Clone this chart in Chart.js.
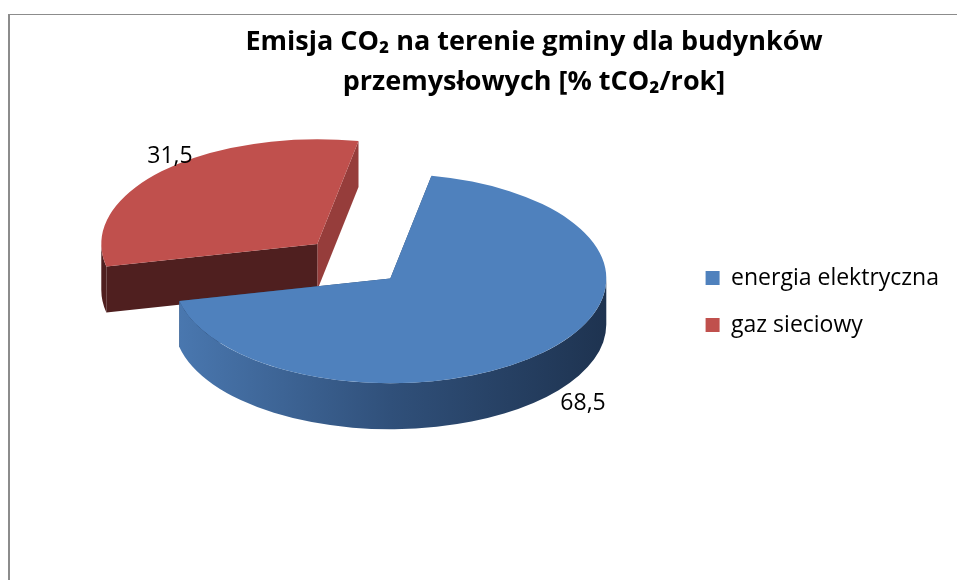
<!DOCTYPE html>
<html>
<head>
<meta charset="utf-8">
<script src="https://cdn.jsdelivr.net/npm/chart.js@4.4.1/dist/chart.umd.min.js"></script>
<style>
html, body { margin: 0; padding: 0; background: #fff; overflow: hidden; }
#ramka { position: absolute; left: 8px; top: 14px; width: 1200px; height: 800px;
         border-left: 2px solid #8c8c8c; border-top: 1px solid #8c8c8c; }
#wykres { position: absolute; left: 0; top: 0; }
</style>
</head>
<body>
<div id="ramka"></div>
<canvas id="wykres" width="957" height="580"></canvas>
<script>
const kategorie = ['energia elektryczna', 'gaz sieciowy'];
const udzialy = [68.5, 31.5];
const kolory = ['#4f81bd', '#c0504d'];
const tytul = ['Emisja CO₂ na terenie gminy dla budynków', 'przemysłowych [% tCO₂/rok]'];

// rysuje tort 3D z kątów policzonych przez Chart.js
const tort3d = {
    id: 'tort3d',
    beforeDatasetsDraw(chart, args, opts) {
        const ctx = chart.ctx;
        const arcs = chart.getDatasetMeta(0).data;
        const dane = chart.data.datasets[0].data;
        const d = opts.depth;

        const geom = arcs.map(function(arc, i) {
            const s = arc.startAngle, e = arc.endAngle, m = (s + e) / 2;
            const off = arc.options.offset || 0;
            const rx = arc.outerRadius, ry = rx * opts.tilt;
            return {
                i: i, s: s, e: e, m: m, rx: rx, ry: ry,
                cx: arc.x + opts.shiftX + Math.cos(m) * off,
                cy: arc.y - d / 2 + Math.sin(m) * off * opts.tilt,
                color: arc.options.backgroundColor
            };
        });

        // najpierw kawałki z tyłu
        const kolejnosc = geom.slice().sort((a, b) => Math.sin(a.m) - Math.sin(b.m));

        kolejnosc.forEach(function(g) {
            const pt = (a) => [g.cx + Math.cos(a) * g.rx, g.cy + Math.sin(a) * g.ry];

            // ścianki boczne (promieniowe)
            const sciany = [[g.s, opts.faceColors[g.i][0]], [g.e, opts.faceColors[g.i][1]]]
                .sort((a, b) => Math.sin(a[0]) - Math.sin(b[0]));
            sciany.forEach(function(f) {
                const p = pt(f[0]);
                ctx.beginPath();
                ctx.moveTo(g.cx, g.cy);
                ctx.lineTo(p[0], p[1]);
                ctx.lineTo(p[0], p[1] + d);
                ctx.lineTo(g.cx, g.cy + d);
                ctx.closePath();
                ctx.fillStyle = f[1];
                ctx.fill();
            });

            // zewnętrzna ścianka - widoczna tylko z przodu
            const stops = opts.sideColors[g.i];
            const grad = ctx.createLinearGradient(g.cx - g.rx, 0, g.cx + g.rx, 0);
            stops.forEach((c, k) => grad.addColorStop(stops.length > 1 ? k / (stops.length - 1) : 0, c));
            for (let k = -1; k <= 2; k++) {
                const lo = Math.max(g.s, 2 * Math.PI * k);
                const hi = Math.min(g.e, 2 * Math.PI * k + Math.PI);
                if (hi <= lo) continue;
                ctx.beginPath();
                ctx.ellipse(g.cx, g.cy, g.rx, g.ry, 0, lo, hi);
                ctx.ellipse(g.cx, g.cy + d, g.rx, g.ry, 0, hi, lo, true);
                ctx.closePath();
                ctx.fillStyle = grad;
                ctx.fill();
            }

            // wierzch
            ctx.beginPath();
            ctx.moveTo(g.cx, g.cy);
            ctx.ellipse(g.cx, g.cy, g.rx, g.ry, 0, g.s, g.e);
            ctx.closePath();
            ctx.fillStyle = g.color;
            ctx.fill();
        });

        // etykiety z wartościami
        ctx.save();
        ctx.font = opts.labelFont;
        ctx.fillStyle = '#000';
        ctx.textAlign = 'left';
        ctx.textBaseline = 'middle';
        geom.forEach(function(g) {
            const c = Math.cos(g.m), sn = Math.sin(g.m);
            const lx = g.cx + c * g.rx * 1.1;
            const ly = g.cy + sn * g.ry * 1.2 + (sn > 0 ? d * 0.8 : 0);
            ctx.fillText(String(dane[g.i]).replace('.', ','), lx, ly);
        });
        ctx.restore();
        return false;
    }
};

new Chart(document.getElementById('wykres'), {
    type: 'pie',
    data: {
        labels: kategorie,
        datasets: [{
            data: udzialy,
            backgroundColor: kolory,
            borderWidth: 0,
            offset: [0, 102],
            radius: 216
        }]
    },
    options: {
        responsive: false,
        animation: false,
        rotation: 11,
        layout: {
            padding: { left: 119, right: 8, top: 0, bottom: 79 }
        },
        plugins: {
            title: {
                display: true,
                text: tytul,
                color: '#000',
                font: { family: 'Open Sans', size: 27, weight: 'bold', lineHeight: '40px' },
                padding: { top: 22, bottom: 0 }
            },
            legend: {
                position: 'right',
                fullSize: false,
                labels: {
                    boxWidth: 14,
                    boxHeight: 14,
                    padding: 24,
                    color: '#000',
                    font: { family: 'Open Sans', size: 23 }
                }
            },
            tooltip: { enabled: false },
            tort3d: {
                tilt: 0.485,
                depth: 46,
                shiftX: -10,
                labelFont: '23px "Open Sans"',
                sideColors: [['#4a78b0', '#30507a', '#1e3350'], ['#4f1f1f']],
                faceColors: [['#2b4568', '#2b4568'], ['#4f1f1f', '#963d3b']]
            }
        }
    },
    plugins: [tort3d]
});
</script>
</body>
</html>
